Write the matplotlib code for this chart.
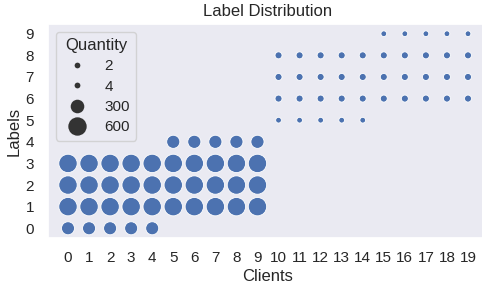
import matplotlib
matplotlib.use('Agg')
import numpy as np
import pandas as pd
import seaborn as sns
import matplotlib.pyplot as plt
from matplotlib.lines import Line2D

sns.set_theme(style='dark')
plt.rcParams['font.family'] = ['Liberation Sans', 'DejaVu Sans']

# one row per (client, label) pair that holds data
clients = [0, 0, 0, 0, 1, 1, 1, 1, 2, 2, 2, 2, 3, 3, 3, 3, 4, 4, 4, 4,
           5, 5, 5, 5, 6, 6, 6, 6, 7, 7, 7, 7, 8, 8, 8, 8, 9, 9, 9, 9,
           10, 10, 10, 10, 11, 11, 11, 11, 12, 12, 12, 12, 13, 13, 13, 13, 14, 14, 14, 14,
           15, 15, 15, 15, 16, 16, 16, 16, 17, 17, 17, 17, 18, 18, 18, 18, 19, 19, 19, 19]
labels = [0, 1, 2, 3] * 5 + [1, 2, 3, 4] * 5 + [5, 6, 7, 8] * 5 + [6, 7, 8, 9] * 5
quantity = [270, 600, 600, 600] * 5 + [600, 600, 600, 275] * 5 + [2, 34, 34, 34] * 5 + [34, 34, 34, 2] * 5

legend_values = [2, 4, 300, 600]
size_range = (17, 175)
q_range = (2, 600)

def size_of(q):
    q = np.asarray(q, dtype=float)
    return size_range[0] + (q - q_range[0]) / (q_range[1] - q_range[0]) * (size_range[1] - size_range[0])

df = pd.DataFrame({'Clients': clients, 'Labels': labels, 'Quantity': quantity})

fig = plt.figure(figsize=(4.82, 2.88), dpi=100)
ax = fig.add_axes([48 / 482, 50 / 288, 440 / 482, 214 / 288])
ax.scatter(df['Clients'], df['Labels'], s=size_of(df['Quantity']), color='#4C72B0',
           edgecolor='white', linewidth=0.6, zorder=3)

ax.set_xticks(range(20))
ax.set_yticks(range(10))
ax.tick_params(axis='x', labelsize=11, pad=3)
ax.tick_params(axis='y', labelsize=11, pad=4)
ax.set_xlabel('Clients', fontsize=12, labelpad=3)
ax.set_ylabel('Labels', fontsize=12, labelpad=3)
ax.set_title('Label Distribution', fontsize=12, pad=6)

handles = [Line2D([], [], linestyle='', marker='o', color='.2', markeredgewidth=0,
                  markersize=np.sqrt(size_of(v))) for v in legend_values]
ax.legend(handles, [str(v) for v in legend_values], title='Quantity', loc='upper left',
          fontsize=11, title_fontsize=12, labelspacing=0.42)

plt.savefig('out.png', dpi=100)
plt.close()
